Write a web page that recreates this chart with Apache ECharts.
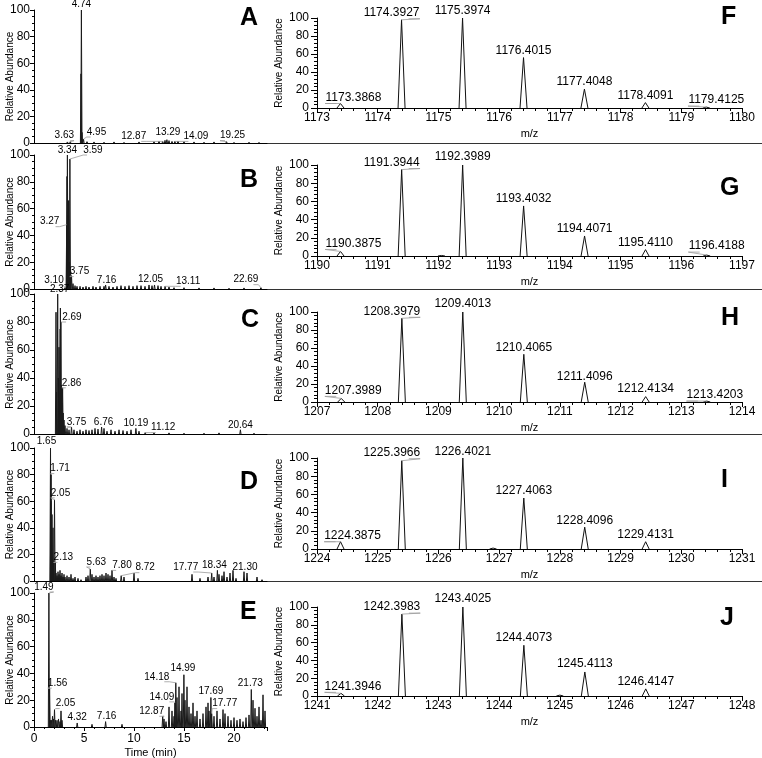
<!DOCTYPE html>
<html><head><meta charset="utf-8">
<script src="https://cdn.jsdelivr.net/npm/echarts@6/dist/echarts.min.js"></script>
<style>html,body{margin:0;padding:0;background:#fff}#c{width:762px;height:758px}</style>
</head><body><div id="c"></div>
<script>
// ---------- DATA ----------
// Chromatograms (time in min, relative abundance %)
const chromA = [[3.34,0.8],[3.63,1],[4.70,52],[4.74,100],[4.80,8],[4.95,3],[5.3,1],[6.0,0.8],[7.0,0.6],[8.0,0.8],[9.0,0.5],[10.5,0.8],[12.0,1],[12.5,1.5],[12.87,1.2],[13.1,2],[13.29,2.5],[13.5,1.8],[13.8,1.2],[14.09,1.2],[14.4,1.5],[15.0,1],[16.0,0.8],[17.0,0.6],[18.0,0.8],[19.25,1],[20.0,0.5],[21.5,0.6],[22.5,0.5]];
const chromB = [[3.10,1],[3.27,48],[3.30,84],[3.34,100],[3.40,55],[3.46,66],[3.52,20],[3.59,97],[3.65,16],[3.75,10],[3.9,4],[4.1,2.5],[4.3,2],[4.6,2],[4.9,1.5],[5.2,2],[5.5,1.5],[5.9,2],[6.2,1.5],[6.6,2],[7.0,2],[7.16,3],[7.5,2],[7.9,1.5],[8.3,2],[8.7,2.5],[9.1,2],[9.5,2.5],[9.9,2],[10.3,2.5],[10.7,2.5],[11.1,2],[11.5,3],[11.8,2.5],[12.05,3],[12.4,2.5],[12.7,2],[13.11,2],[13.5,1.5],[14.0,1],[15.0,1],[16.5,0.8],[18.0,0.8],[19.5,0.6],[21.0,0.8],[22.69,1]];
const chromC = [[2.20,87],[2.26,30],[2.37,100],[2.43,40],[2.50,62],[2.55,20],[2.62,75],[2.64,90],[2.69,80],[2.75,35],[2.80,22],[2.86,33],[2.92,15],[3.0,10],[3.1,6],[3.3,4],[3.5,3],[3.75,5],[4.0,3],[4.3,2],[4.6,3],[4.9,2],[5.2,3],[5.5,2.5],[5.8,3],[6.1,4],[6.4,3.5],[6.76,5],[7.0,4],[7.3,2],[7.7,3],[8.1,2],[8.5,3],[8.9,2.5],[9.3,2],[9.7,3],[10.19,4],[10.5,2],[11.12,1],[12.0,0.8],[13.5,0.8],[15.0,0.6],[17.0,0.6],[18.5,0.8],[20.64,3],[22.0,0.6]];
const chromD = [[1.65,100],[1.69,60],[1.71,80],[1.80,50],[1.90,40],[1.98,15],[2.05,61],[2.13,14],[2.2,6],[2.3,4],[2.4,7],[2.5,5],[2.6,8],[2.7,4],[2.8,6],[2.9,3],[3.0,5],[3.1,3],[3.3,4],[3.5,3],[3.7,5],[3.9,2],[4.1,3],[4.4,2],[4.7,1],[5.2,3],[5.4,4],[5.63,9],[5.8,5],[6.0,3],[6.2,4],[6.4,3],[6.6,4],[6.8,5],[7.0,4],[7.2,6],[7.4,5],[7.6,4],[7.80,8],[8.0,3],[8.2,2],[8.72,4],[9.0,3],[10.0,6],[10.4,2],[15.8,5],[16.6,2],[17.4,3],[17.77,6],[18.0,3],[18.34,8],[18.5,5],[18.8,4],[19.0,7],[19.3,3],[19.6,6],[19.9,8],[20.2,2],[21.0,7],[21.30,6],[22.3,3],[22.8,1]];
const chromE = [[1.49,100],[1.56,29],[1.65,5],[1.75,5],[1.85,8],[1.95,6],[2.05,13],[2.15,5],[2.3,5],[2.45,6],[2.6,4],[2.7,12],[2.8,5],[4.32,3],[5.8,2],[7.16,4],[8.8,2],[12.87,8],[13.0,6],[13.2,4],[13.5,15],[13.8,12],[14.0,8],[14.09,18],[14.18,33],[14.3,22],[14.5,30],[14.7,12],[14.8,25],[14.99,39],[15.1,20],[15.3,30],[15.5,15],[15.7,10],[15.9,18],[16.1,8],[16.3,12],[16.6,6],[16.9,10],[17.2,15],[17.4,18],[17.5,12],[17.69,22],[17.77,10],[18.0,8],[18.3,12],[18.6,6],[18.9,13],[19.1,10],[19.4,8],[19.7,5],[20.0,7],[20.3,5],[20.6,6],[20.9,4],[21.2,7],[21.5,9],[21.73,28],[21.9,20],[22.1,14],[22.3,8],[22.5,15],[22.7,5],[22.9,24],[23.1,12]];
// Labelled retention times
const labelsA = [4.74,3.63,4.95,12.87,13.29,14.09,19.25];
const labelsB = [3.34,3.59,3.27,3.75,3.10,7.16,12.05,13.11,22.69];
const labelsC = [2.37,2.69,2.86,3.75,6.76,10.19,11.12,20.64];
const labelsD = [1.65,1.71,2.05,2.13,5.63,7.80,8.72,17.77,18.34,21.30];
const labelsE = [1.49,1.56,2.05,4.32,7.16,12.87,14.09,14.18,14.99,17.69,17.77,21.73];
const timeTicks = [0,5,10,15,20];
const timeRange = [0,23.3];

// Mass spectra (m/z, relative abundance %)
const specF = [[1173.3868,5],[1174.3927,98],[1175.3974,100],[1176.4015,56],[1177.4048,21],[1178.4091,6],[1179.4125,1]];
const specG = [[1190.3875,5],[1191.3944,95],[1192.05,0.6],[1192.3989,100],[1193.4032,55],[1194.4071,22],[1195.4110,7],[1196.4188,1]];
const specH = [[1207.3989,4],[1208.3979,93],[1209.4013,100],[1210.4065,53],[1211.4096,22],[1212.4134,6],[1213.4203,1]];
const specI = [[1224.3875,8],[1225.3966,97],[1226.4021,100],[1226.9,1],[1227.4063,56],[1228.4096,24],[1229.4131,8]];
const specJ = [[1241.3946,3],[1242.3983,92],[1243.4025,100],[1244.4073,57],[1245.0,1],[1245.4113,27],[1246.4147,8]];
const mzLabelsF = [1173.3868,1174.3927,1175.3974,1176.4015,1177.4048,1178.4091,1179.4125];
const mzLabelsG = [1190.3875,1191.3944,1192.3989,1193.4032,1194.4071,1195.4110,1196.4188];
const mzLabelsH = [1207.3989,1208.3979,1209.4013,1210.4065,1211.4096,1212.4134,1213.4203];
const mzLabelsI = [1224.3875,1225.3966,1226.4021,1227.4063,1228.4096,1229.4131];
const mzLabelsJ = [1241.3946,1242.3983,1243.4025,1244.4073,1245.4113,1246.4147];
const mzRanges = [[1173,1180],[1190,1197],[1207,1214],[1224,1231],[1241,1248]];
const abundanceTicks = [0,20,40,60,80,100];
const panelLetters = ['A','B','C','D','E','F','G','H','I','J'];

// ---------- LAYOUT / STYLE ----------
const FONT = '"Liberation Sans", Arial, sans-serif';
const leftGrids = [{top:10,h:133},{top:155,h:134},{top:294,h:140},{top:448,h:133},{top:593,h:134}];
const rightGrids = [{top:18,h:90},{top:165,h:91},{top:312,h:90},{top:458,h:91},{top:607,h:89}];
const offA = [[0,-6],[-6,-6],[13,-7],[-29,-5],[1,-7],[21,-5],[6,-6]];
const offB = [[0,-5],[23,-9],[-17,-3],[8,-4],[-11,-7],[1,-5],[-4,-6],[23,-5],[-15,-8]];
const offC = [[2,-5],[11,-5],[9,-5],[5,-5],[2,-5],[0,-5],[18,-5],[0,-5]];
const offD = [[-4,-7],[9,-6],[6,-7],[8,-5],[6,-7],[10,-5],[24,-8],[-26,-6],[-3,-5],[-2,-6]];
const offE = [[-5,-6],[8,-5],[11,-6],[0,-6],[1,-5],[-11,-5],[-13,-6],[-19,-6],[-1,-6],[0,-6],[13,-10],[-1,-6]];
const offF = [[13,-6],[-10,-7],[0,-7],[0,-7],[0,-7],[0,-7],[10,-7]];
const offG = [[13,-8],[-10,-7],[0,-8],[0,-7],[0,-7],[0,-7],[10,-9]];
const offH = [[12,-8],[-10,-7],[0,-8],[0,-7],[0,-6],[0,-8],[8,-6]];
const offI = [[12,-6],[-10,-8],[0,-6],[0,-7],[0,-6],[0,-7]];
const offJ = [[12,-7],[-10,-7],[0,-8],[0,-8],[0,-8],[0,-7]];
const letterPos = [[240,18],[240,180],[241,320],[240,482],[240,612],[721,17],[720,188],[721,318],[721,480],[720,618]];
const separatorsY = [143.5,289.5,434.5,581.5];

const chroms = [chromA,chromB,chromC,chromD,chromE];
const chromLabels = [labelsA,labelsB,labelsC,labelsD,labelsE];
const chromOffs = [offA,offB,offC,offD,offE];
const specs = [specF,specG,specH,specI,specJ];
const specLabels = [mzLabelsF,mzLabelsG,mzLabelsH,mzLabelsI,mzLabelsJ];
const specOffs = [offF,offG,offH,offI,offJ];

const grid = [], xAxis = [], yAxis = [], series = [];
const plain = function(v){ return String(v); };

function yAx(i, right){
  return {gridIndex:i, type:'value', min:abundanceTicks[0], max:abundanceTicks[abundanceTicks.length-1], interval:abundanceTicks[1]-abundanceTicks[0],
    axisLine:{show:true,onZero:false,lineStyle:{color:'#000',width:1}},
    axisTick:{show:true,length:right?6:4,lineStyle:{color:'#000'}},
    minorTick:{show:true,splitNumber:right?5:4,length:right?3:2,lineStyle:{color:'#000'}},
    splitLine:{show:false}, minorSplitLine:{show:false},
    axisLabel:{fontSize:12,margin:right?8:4,color:'#000',fontFamily:FONT,formatter:plain},
    name:'Relative Abundance', nameLocation:'middle', nameGap:right?33:19, nameMoveOverlap:false,
    nameTextStyle:{fontSize:10,color:'#000',fontFamily:FONT}};
}

function spikeSeries(gi, data, hw, color){
  return {type:'custom', xAxisIndex:gi, yAxisIndex:gi, data:data, clip:false, silent:true, z:3,
    renderItem:function(params, api){
      const top = api.coord([api.value(0), api.value(1)]);
      const base = api.coord([api.value(0), 0]);
      return {type:'polyline', shape:{points:[[top[0]-hw, base[1]],[top[0],top[1]],[top[0]+hw, base[1]]]},
        style:{stroke:color, fill:null, lineWidth:1}};
    }};
}

function labelSeries(gi, peaks, labels, offs, fs, dec){
  const data = labels.map(function(v){
    const p = peaks.find(function(q){return Math.abs(q[0]-v)<1e-6;});
    return [v, p ? p[1] : 0];
  });
  return {type:'custom', xAxisIndex:gi, yAxisIndex:gi, data:data, clip:false, silent:true, z:4,
    renderItem:function(params, api){
      const v = api.value(0), h = api.value(1);
      const p = api.coord([v,h]);
      const off = offs[params.dataIndex] || [0,-6];
      const cx = p[0]+off[0], cy = p[1]+off[1];
      const txt = v.toFixed(dec);
      const digits = txt.replace('.','').length;
      const w = fs*(0.556*digits+0.278);
      const children = [{type:'text', style:{text:txt, x:cx, y:cy, align:'center', verticalAlign:'middle',
        textAlign:'center', textVerticalAlign:'middle', font:fs+'px '+FONT, fill:'#000'}}];
      if (Math.abs(off[0]) >= 5) {
        const s = Math.sign(off[0]);
        const ey = cy + fs*0.5;
        children.push({type:'polyline', shape:{points:[[p[0],p[1]],[cx - s*w/2, ey],[cx - s*w*0.3, ey]]},
          style:{stroke:'#9a9a9a', fill:null, lineWidth:0.8}});
      }
      return {type:'group', children:children};
    }};
}

// Left chromatogram panels
for (let i=0;i<5;i++){
  const g = leftGrids[i];
  grid.push({left:34, width:233, top:g.top, height:g.h, outerBoundsMode:'none'});
  const last = (i===4);
  xAxis.push({gridIndex:i, type:'value', min:timeRange[0], max:timeRange[1], interval:timeTicks[1]-timeTicks[0],
    axisLine:{show:true,onZero:false,lineStyle:{color:'#000',width:1}},
    axisTick:{show:last,length:4,lineStyle:{color:'#000'}},
    minorTick:{show:last,splitNumber:5,length:2,lineStyle:{color:'#000'}},
    splitLine:{show:false}, minorSplitLine:{show:false},
    axisLabel:{show:last,fontSize:12,margin:6,color:'#000',fontFamily:FONT,showMaxLabel:false,formatter:plain},
    name: last ? 'Time (min)' : '', nameLocation:'middle', nameGap:20, nameMoveOverlap:false,
    nameTextStyle:{fontSize:11,color:'#000',fontFamily:FONT}});
  yAxis.push(yAx(i,false));
  series.push(spikeSeries(i, chroms[i], 0.6, '#1a1a1a'));
  series.push(labelSeries(i, chroms[i], chromLabels[i], chromOffs[i], 10, 2));
}
// Right mass spectra panels
for (let j=0;j<5;j++){
  const gi = 5+j, g = rightGrids[j];
  grid.push({left:317, width:425, top:g.top, height:g.h, outerBoundsMode:'none'});
  xAxis.push({gridIndex:gi, type:'value', min:mzRanges[j][0], max:mzRanges[j][1], interval:1,
    axisLine:{show:true,onZero:false,lineStyle:{color:'#000',width:1}},
    axisTick:{show:true,length:5,lineStyle:{color:'#000'}},
    minorTick:{show:true,splitNumber:5,length:3,lineStyle:{color:'#000'}},
    splitLine:{show:false}, minorSplitLine:{show:false},
    axisLabel:{fontSize:12,margin:4,color:'#000',fontFamily:FONT,formatter:plain},
    name:'m/z', nameLocation:'middle', nameGap:20, nameMoveOverlap:false,
    nameTextStyle:{fontSize:11,color:'#000',fontFamily:FONT}});
  yAxis.push(yAx(gi,true));
  series.push(spikeSeries(gi, specs[j], 3.5, '#111'));
  series.push(labelSeries(gi, specs[j], specLabels[j], specOffs[j], 12, 4));
}

const graphic = [];
separatorsY.forEach(function(y){
  graphic.push({type:'line', shape:{x1:267,y1:y,x2:762,y2:y}, style:{stroke:'#333',lineWidth:1}, silent:true});
});
panelLetters.forEach(function(L,k){
  graphic.push({type:'text', x:letterPos[k][0], y:letterPos[k][1], silent:true,
    style:{text:L, font:'bold 25px '+FONT, fill:'#000', align:'left', verticalAlign:'middle', textAlign:'left', textVerticalAlign:'middle'}});
});

const chart = echarts.init(document.getElementById('c'), null, {renderer:'canvas'});
chart.setOption({animation:false, backgroundColor:'#fff', grid:grid, xAxis:xAxis, yAxis:yAxis, series:series, graphic:graphic});
</script>
</body></html>
